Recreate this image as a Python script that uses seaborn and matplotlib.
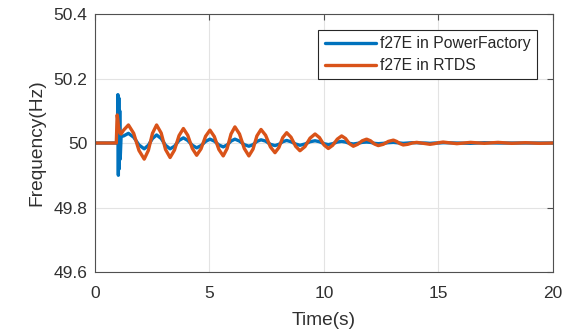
import pandas as pd
import matplotlib.pyplot as plt
import seaborn as sns

sns.set_theme(style="whitegrid")
plt.rcParams['font.family'] = ['Liberation Sans', 'DejaVu Sans']

# values
time_s = [
    0.0, 0.93, 0.97, 1.00, 1.02, 1.04, 1.06, 1.08, 1.10, 1.14, 1.25,
    1.46, 1.69, 1.92, 2.15, 2.33, 2.51, 2.69, 2.89, 3.08,
    3.28, 3.47, 3.67, 3.86, 4.05, 4.25, 4.44, 4.63, 4.83,
    5.02, 5.21, 5.41, 5.60, 5.77, 5.94, 6.11, 6.31, 6.52,
    6.72, 6.90, 7.07, 7.25, 7.45, 7.66, 7.86, 8.03, 8.20,
    8.37, 8.56, 8.76, 8.95, 9.17, 9.39, 9.61, 9.80, 10.00,
    10.19, 10.38, 10.58, 10.77, 10.94, 11.11, 11.28, 11.47, 11.67,
    11.86, 12.03, 12.20, 12.37, 12.59, 12.81, 13.03, 13.17, 13.32,
    13.46, 13.66, 13.85, 14.05, 14.24, 14.44, 14.63, 14.82, 15.01,
    15.20,
    15.8, 16.4, 17.0, 17.6, 18.2, 18.8, 19.4, 20.0,
]

f_powerfactory = [
    50.0, 50.0, 50.0, 50.150, 49.900, 50.140, 49.920, 50.100, 49.950, 50.020, 50.022,
    50.030, 50.018, 49.994, 49.982, 49.993, 50.014, 50.025, 50.014, 49.993,
    49.982, 49.990, 50.008, 50.016, 50.008, 49.993, 49.985, 49.992, 50.005,
    50.012, 50.006, 49.994, 49.988, 49.994, 50.006, 50.012, 50.006, 49.995,
    49.990, 49.995, 50.005, 50.010, 50.006, 49.996, 49.992, 49.996, 50.004,
    50.008, 50.004, 49.997, 49.993, 49.997, 50.004, 50.007, 50.004, 49.998,
    49.995, 49.998, 50.003, 50.005, 50.003, 49.999, 49.997, 49.999, 50.002,
    50.003, 50.002, 49.999, 49.998, 49.999, 50.001, 50.002, 50.001, 50.000,
    49.999, 50.000, 50.001, 50.001, 50.000, 50.000, 49.999, 50.000, 50.000,
    50.001,
    50.000, 49.999, 50.001, 50.000, 50.000, 50.000, 50.000, 50.000,
]

f_rtds = [
    50.0, 50.0, 50.087, 50.070, 50.055, 50.045, 50.040, 50.035, 50.030, 50.028, 50.040,
    50.056, 50.030, 49.977, 49.950, 49.977, 50.030, 50.056, 50.031, 49.980,
    49.955, 49.978, 50.023, 50.045, 50.024, 49.983, 49.962, 49.982, 50.021,
    50.040, 50.020, 49.980, 49.960, 49.983, 50.028, 50.050, 50.028, 49.983,
    49.960, 49.981, 50.022, 50.042, 50.024, 49.988, 49.970, 49.986, 50.017,
    50.032, 50.018, 49.990, 49.976, 49.989, 50.015, 50.028, 50.017, 49.994,
    49.983, 49.993, 50.012, 50.022, 50.014, 49.998, 49.990, 49.996, 50.007,
    50.012, 50.007, 49.997, 49.992, 49.996, 50.005, 50.009, 50.005, 49.998,
    49.994, 49.996, 50.000, 50.002, 50.000, 49.998, 49.996, 49.998, 50.001,
    50.003,
    49.998, 50.002, 49.999, 50.002, 49.999, 50.001, 49.999, 50.000,
]

series_names = ['f27E in PowerFactory', 'f27E in RTDS']
series_colors = ['#0072BD', '#D95319']
x_ticks = [0, 5, 10, 15, 20]
y_ticks = [49.6, 49.8, 50.0, 50.2, 50.4]
y_tick_labels = ['49.6', '49.8', '50', '50.2', '50.4']

n = len(time_s)
df = pd.DataFrame({
    'Time': time_s + time_s,
    'Frequency': f_powerfactory + f_rtds,
    'Series': [series_names[0]] * n + [series_names[1]] * n,
})

fig = plt.figure(figsize=(5.81, 3.34), dpi=100)
ax = fig.add_axes([0.1635, 0.1856, 0.7883, 0.7724])
ax.set_facecolor('white')

sns.lineplot(data=df, x='Time', y='Frequency', hue='Series', palette=series_colors,
             estimator=None, sort=False, linewidth=2.4, ax=ax)

ax.set_xlim(0, 20)
ax.set_ylim(49.6, 50.4)
ax.set_xticks(x_ticks)
ax.set_yticks(y_ticks)
ax.set_yticklabels(y_tick_labels)

ax.grid(True, color='#e3e3e3', linewidth=0.8)
for s in ax.spines.values():
    s.set_visible(True)
    s.set_color('#505050')
    s.set_linewidth(0.8)
ax.tick_params(axis='both', direction='in', length=4, width=0.8, color='#505050',
               labelcolor='#303030', labelsize=12.5, top=True, right=True)
ax.tick_params(axis='x', pad=10)
ax.tick_params(axis='y', pad=5.5)

ax.set_xlabel('Time(s)', fontsize=13.8, color='#303030', labelpad=8)
ax.set_ylabel('Frequency(Hz)', fontsize=13.8, color='#303030', labelpad=6)

handles, labels = ax.get_legend_handles_labels()
leg = ax.legend(handles, labels, loc='upper right', fancybox=False, framealpha=1,
                edgecolor='#262626', fontsize=11.3, handlelength=3.3, handletextpad=0.25,
                borderaxespad=1.0, borderpad=0.4, labelspacing=0.45)
leg.get_frame().set_linewidth(0.8)
for t in leg.get_texts():
    t.set_color('#262626')

fig.savefig('out.png', dpi=100)
